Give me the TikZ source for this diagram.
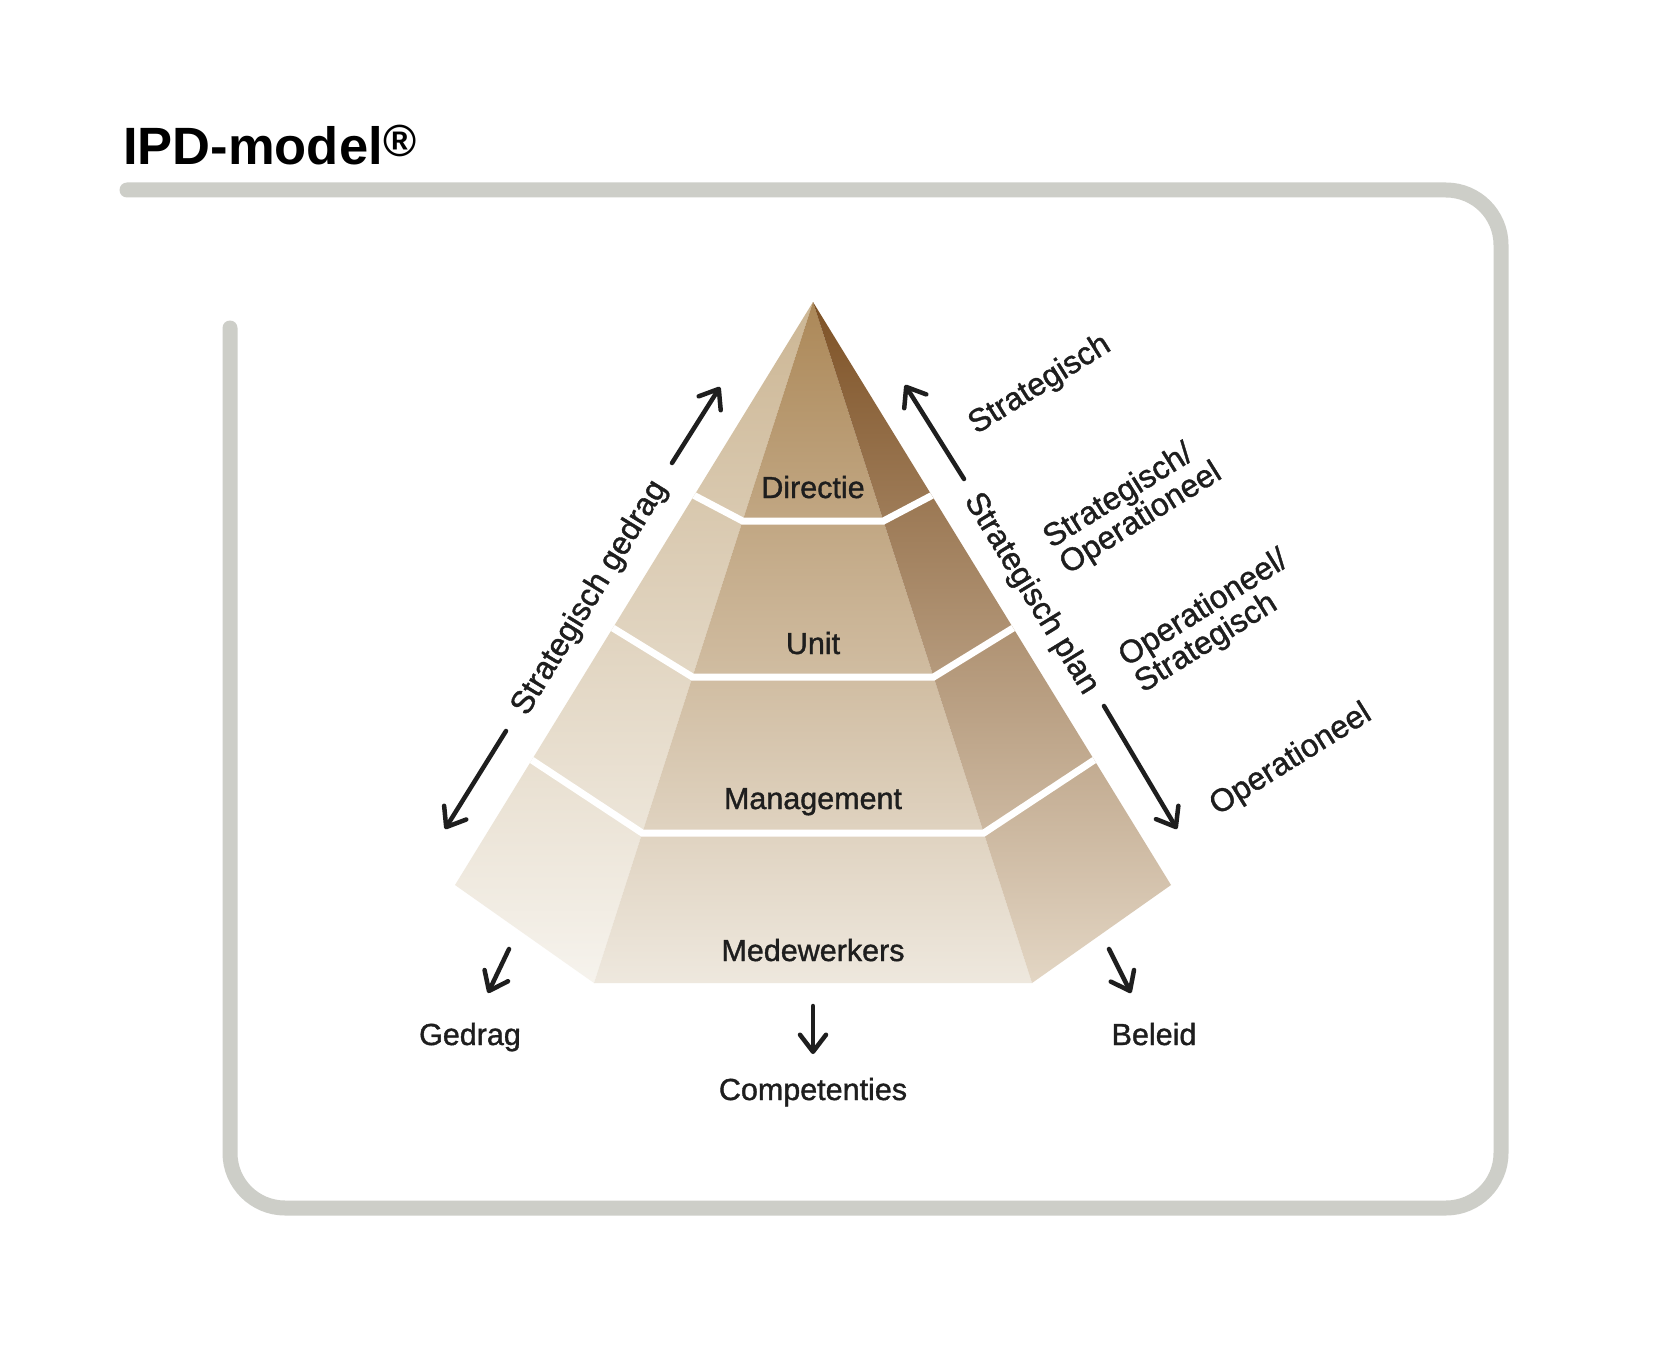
\documentclass[tikz,border=0pt]{standalone}
\usepackage{fontspec}
\setmainfont{Liberation Sans}
\newfontfamily\medfont[FakeBold=1.2]{Liberation Sans}
\usetikzlibrary{arrows.meta,calc}
\definecolor{framegray}{HTML}{CDCEC8}
\definecolor{ink}{HTML}{1E1E1E}
\definecolor{lefttop}{RGB}{204,182,148}
\definecolor{leftbot}{RGB}{246,243,237}
\definecolor{fronttop}{RGB}{172,136,88}
\definecolor{frontbot}{RGB}{238,232,222}
\definecolor{righttop}{RGB}{126,82,38}
\definecolor{rightmid}{RGB}{180,148,106}
\definecolor{rightbot}{RGB}{227,214,196}
\begin{document}
\begin{tikzpicture}[x=1pt,y=-1pt,
  lbl/.style={text=ink,font=\medfont\fontsize{30.5}{33}\selectfont,inner sep=0pt},
  rlbl/.style={text=ink,font=\medfont\fontsize{32}{28}\selectfont,inner sep=0pt,align=left},
  arr/.style={draw=ink,line width=4.5pt,line cap=round,-{Straight Barb[length=17pt,width=26pt,round]}},
  sepline/.style={draw=white,line width=7pt,line join=miter},
]
\useasboundingbox (0,0) rectangle (1678,1356);
\fill[white] (0,0) rectangle (1678,1356);

% frame
\draw[framegray,line width=15pt,line cap=round,rounded corners=55pt]
  (127,190) -- (1501,190) -- (1501,1208) -- (230,1208) -- (230,328);

% title
\node[anchor=base west,inner sep=0pt,text=black,font=\fontsize{52.5}{52}\bfseries\selectfont] (title) at (123,165)
  {IPD-model\kern1pt\raisebox{8pt}{\fontsize{45}{45}\selectfont ®}};

% pyramid corners
\coordinate (A) at (813,302);
\coordinate (L) at (455,885);
\coordinate (FL) at (594,983);
\coordinate (FR) at (1032,983);
\coordinate (R) at (1171,885);

\shade[top color=lefttop,bottom color=leftbot] (A) -- (L) -- (FL) -- cycle;
\shade[top color=fronttop,bottom color=frontbot] (A) -- (FL) -- (FR) -- cycle;
\shade[top color=righttop,middle color=rightmid,bottom color=rightbot] (A) -- (FR) -- (R) -- cycle;

% tier separators
\coordinate (iL1) at (742.6,521);  \coordinate (iR1) at (883.4,521);
\coordinate (oL1) at (694.2,495.5); \coordinate (oR1) at (931.8,495.5);
\coordinate (iL2) at (692.4,677);  \coordinate (iR2) at (933.6,677);
\coordinate (oL2) at (612.8,628);  \coordinate (oR2) at (1013.2,628);
\coordinate (iL3) at (642.2,833);  \coordinate (iR3) at (983.8,833);
\coordinate (oL3) at (531.7,760);  \coordinate (oR3) at (1094.3,760);
\begin{scope}
  \clip (A) -- (L) -- (FL) -- (FR) -- (R) -- cycle;
  \draw[sepline] ($(iL1)!1.6!(oL1)$) -- (iL1) -- (iR1) -- ($(iR1)!1.6!(oR1)$);
  \draw[sepline] ($(iL2)!1.6!(oL2)$) -- (iL2) -- (iR2) -- ($(iR2)!1.6!(oR2)$);
  \draw[sepline] ($(iL3)!1.6!(oL3)$) -- (iL3) -- (iR3) -- ($(iR3)!1.6!(oR3)$);
\end{scope}

% labels in pyramid
\node[lbl,anchor=base] (dir) at (813,498) {Directie};
\node[lbl,anchor=base] (unit) at (813,654) {Unit};
\node[lbl,anchor=base] (man) at (813,809) {Management};
\node[lbl,anchor=base] (med) at (813,961) {Medewerkers};

% bottom labels
\node[lbl,anchor=base] (ged) at (470,1045) {Gedrag};
\node[lbl,anchor=base] (bel) at (1154,1045) {Beleid};
\node[lbl,anchor=base] (comp) at (813,1100) {Competenties};

% rotated labels
\node[rlbl,rotate=58.5] (sg) at (590,598) {Strategisch gedrag};
\node[rlbl,rotate=-58.5] (sp) at (1031,594) {Strategisch plan};
\node[rlbl,rotate=32] (s1) at (1040,385) {Strategisch};
\node[rlbl,rotate=32] (s2) at (1133,506) {Strategisch/\\Operationeel};
\node[rlbl,rotate=32] (s3) at (1212,622) {Operationeel/\\Strategisch};
\node[rlbl,rotate=32] (s4) at (1291,760) {Operationeel};

% arrows
\coordinate (a1s) at (672,463);  \coordinate (a1e) at (720,387);
\coordinate (a2s) at (506,731);  \coordinate (a2e) at (445,829);
\coordinate (a3s) at (964,479);  \coordinate (a3e) at (905,385);
\coordinate (a4s) at (1104,706); \coordinate (a4e) at (1177,829);
\coordinate (a5s) at (509,949);  \coordinate (a5e) at (488,993);
\coordinate (a6s) at (813,1006); \coordinate (a6e) at (813,1054);
\coordinate (a7s) at (1109,949); \coordinate (a7e) at (1131,993);
\draw[arr] (a1s) -- (a1e);
\draw[arr] (a2s) -- (a2e);
\draw[arr] (a3s) -- (a3e);
\draw[arr] (a4s) -- (a4e);
\draw[arr] (a5s) -- (a5e);
\draw[arr] (a6s) -- (a6e);
\draw[arr] (a7s) -- (a7e);
\end{tikzpicture}
\end{document}
